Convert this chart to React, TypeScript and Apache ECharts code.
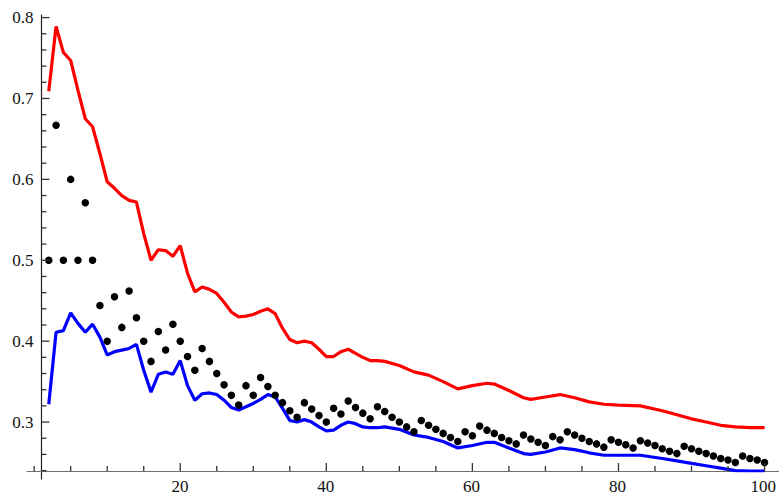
import React, { useEffect, useRef } from "react";
import * as echarts from "echarts";

// x positions where the two bounding curves were read
const curveX = [
  2, 3, 4, 5, 6, 7, 8, 9, 10, 11, 12, 13, 14, 15, 16, 17, 18, 19, 20, 21, 22, 23, 24, 25, 26, 27, 28, 29, 30,
  31, 32, 33, 34, 35, 36, 37, 38, 39, 40, 41, 42, 43, 44, 45, 46, 47, 48, 50, 52, 54, 56, 58, 60, 62, 63, 65,
  67, 68, 70, 72, 74, 76, 78, 80, 83, 86, 88, 90, 92, 94, 96, 98, 100,
];

// upper curve (red)
const redY = [
  0.709, 0.789, 0.757, 0.747, 0.71, 0.675, 0.665, 0.632, 0.597, 0.589, 0.58, 0.574, 0.572, 0.533, 0.5, 0.513,
  0.512, 0.505, 0.518, 0.484, 0.461, 0.467, 0.464, 0.459, 0.448, 0.436, 0.43, 0.431, 0.433, 0.437, 0.44, 0.434,
  0.416, 0.402, 0.398, 0.4, 0.398, 0.39, 0.381, 0.381, 0.387, 0.39, 0.385, 0.38, 0.376, 0.376, 0.375, 0.37,
  0.362, 0.358, 0.35, 0.341, 0.345, 0.348, 0.347, 0.339, 0.33, 0.328, 0.331, 0.334, 0.33, 0.325, 0.322, 0.321,
  0.32, 0.314, 0.309, 0.304, 0.3, 0.296, 0.294, 0.293, 0.293,
];

// lower curve (blue)
const blueY = [
  0.322, 0.411, 0.413, 0.435, 0.422, 0.411, 0.421, 0.405, 0.383, 0.387, 0.389, 0.391, 0.396, 0.364, 0.337,
  0.359, 0.362, 0.359, 0.376, 0.345, 0.327, 0.335, 0.336, 0.334, 0.327, 0.318, 0.315, 0.319, 0.323, 0.328,
  0.334, 0.331, 0.317, 0.302, 0.3, 0.303, 0.3, 0.294, 0.289, 0.29, 0.296, 0.3, 0.298, 0.294, 0.293, 0.293,
  0.294, 0.291, 0.284, 0.281, 0.276, 0.268, 0.271, 0.275, 0.275, 0.268, 0.261, 0.26, 0.263, 0.268, 0.266,
  0.262, 0.259, 0.259, 0.259, 0.255, 0.252, 0.249, 0.246, 0.243, 0.24, 0.2395, 0.2395,
];

// dots: x = 2..100
const dotStart = 2;
const dotY = [
  0.5, 0.667, 0.5, 0.6, 0.5, 0.571, 0.5, 0.444, 0.4, 0.455, 0.417, 0.462, 0.429, 0.4, 0.375, 0.412, 0.389, 0.421,
  0.4, 0.381, 0.364, 0.391, 0.375, 0.36, 0.346, 0.333, 0.321, 0.345, 0.333, 0.355, 0.344, 0.333, 0.324, 0.314,
  0.306, 0.324, 0.316, 0.308, 0.3, 0.317, 0.31, 0.326, 0.318, 0.311, 0.304, 0.319, 0.313, 0.306, 0.3, 0.294,
  0.288, 0.302, 0.296, 0.291, 0.286, 0.281, 0.276, 0.288, 0.283, 0.295, 0.29, 0.286, 0.281, 0.277, 0.273, 0.284,
  0.279, 0.275, 0.271, 0.282, 0.278, 0.288, 0.284, 0.28, 0.276, 0.273, 0.269, 0.278, 0.275, 0.272, 0.268, 0.277,
  0.274, 0.271, 0.267, 0.264, 0.261, 0.27, 0.267, 0.264, 0.261, 0.258, 0.255, 0.253, 0.25, 0.258, 0.255, 0.253,
  0.25,
];

// tick values
const xMajorTicks = [20, 40, 60, 80, 100];
const xMinorTicks = [0, 5, 10, 15, 25, 30, 35, 45, 50, 55, 65, 70, 75, 85, 90, 95];
const yMajorTicks = [0.3, 0.4, 0.5, 0.6, 0.7, 0.8];
const yMinorTicks = [
  0.24, 0.26, 0.28, 0.32, 0.34, 0.36, 0.38, 0.42, 0.44, 0.46, 0.48, 0.52, 0.54, 0.56, 0.58, 0.62, 0.64, 0.66,
  0.68, 0.72, 0.74, 0.76, 0.78,
];
const xLabelMin = 0;
const xLabelMax = 100;
const xLabelStep = 20;
const yLabelMin = 0.3;
const yLabelMax = 0.8;
const yLabelStep = 0.1;

const AXIS = "#6e6e6e";
const TICK = "#333333";
const FONT = "Liberation Serif";

export default function App() {
  const ref = useRef<HTMLDivElement>(null);
  useEffect(() => {
    if (!ref.current) return;
    const chart = echarts.init(ref.current, undefined, { renderer: "svg" });
    // plot geometry
    const gLeft = 27;
    const gTop = 15;
    const gWidth = 752;
    const gHeight = 456;
    const xMin = -0.98;
    const xMax = 101.98;
    const pxX = gWidth / (xMax - xMin);
    const yTop = 0.8032;
    const yBottom = 0.2395;
    const pxY = gHeight / (yTop - yBottom);
    const yAxisAt = 1; // vertical axis drawn at x = 1
    const yAxisX = gLeft + (yAxisAt - xMin) * pxX;
    const yAxisBottomValue = 0.2296;

    const red = curveX.map((x, i) => [x, redY[i]]);
    const blue = curveX.map((x, i) => [x, blueY[i]]);
    const dots = dotY.map((v, i) => [dotStart + i, v]);

    const labelGridX = {
      left: gLeft + (xLabelMin - xMin) * pxX,
      top: gTop,
      width: (xLabelMax - xLabelMin) * pxX,
      height: gHeight,
    };
    const labelGridY = {
      left: yAxisX,
      top: gTop + (yTop - yLabelMax) * pxY,
      width: 100,
      height: (yLabelMax - yLabelMin) * pxY,
    };
    const yLineGrid = {
      left: yAxisX,
      top: gTop,
      width: 100,
      height: (yTop - yAxisBottomValue) * pxY,
    };

    const tickSeries = (data: number[][], size: number[], offset: number[]) => ({
      type: "scatter",
      xAxisIndex: 0,
      yAxisIndex: 0,
      data,
      symbol: "rect",
      symbolSize: size,
      symbolOffset: offset,
      itemStyle: { color: TICK, opacity: 1 },
      clip: false,
      silent: true,
      z: 5,
    });

    chart.setOption({
      animation: false,
      textStyle: { fontFamily: FONT },
      grid: [
        { left: gLeft, top: gTop, width: gWidth, height: gHeight }, // 0 data + x axis line
        labelGridX, // 1 x labels
        yLineGrid, // 2 y axis line
        labelGridY, // 3 y labels
      ],
      xAxis: [
        {
          gridIndex: 0,
          type: "value",
          min: xMin,
          max: xMax,
          position: "bottom",
          axisLine: { show: true, lineStyle: { color: AXIS, width: 1.2 } },
          axisTick: { show: false },
          axisLabel: { show: false },
          splitLine: { show: false },
        },
        {
          gridIndex: 1,
          type: "value",
          min: xLabelMin,
          max: xLabelMax,
          interval: xLabelStep,
          position: "bottom",
          axisLine: { show: false },
          axisTick: { show: false },
          axisLabel: {
            show: true,
            showMinLabel: false,
            margin: 7,
            color: "#111",
            fontFamily: FONT,
            fontSize: 17,
          },
          splitLine: { show: false },
        },
        { gridIndex: 2, type: "value", min: 0, max: 1, show: false },
        { gridIndex: 3, type: "value", min: 0, max: 1, show: false },
      ],
      yAxis: [
        { gridIndex: 0, type: "value", min: yBottom, max: yTop, show: false },
        { gridIndex: 1, type: "value", min: 0, max: 1, show: false },
        {
          gridIndex: 2,
          type: "value",
          min: yAxisBottomValue,
          max: yTop,
          position: "left",
          axisLine: { show: true, lineStyle: { color: "#222", width: 1.2 } },
          axisTick: { show: false },
          axisLabel: { show: false },
          splitLine: { show: false },
        },
        {
          gridIndex: 3,
          type: "value",
          min: yLabelMin,
          max: yLabelMax,
          interval: yLabelStep,
          position: "left",
          axisLine: { show: false },
          axisTick: { show: false },
          axisLabel: {
            show: true,
            margin: 8,
            color: "#111",
            fontFamily: FONT,
            fontSize: 17,
            formatter: (v: number) => v.toFixed(1),
          },
          splitLine: { show: false },
        },
      ],
      series: [
        tickSeries(xMajorTicks.map((x) => [x, yBottom]), [1.3, 8], [0, -4]),
        tickSeries(xMinorTicks.map((x) => [x, yBottom]), [1.3, 5], [0, -2.5]),
        tickSeries(yMajorTicks.map((y) => [yAxisAt, y]), [8, 1.3], [4, 0]),
        tickSeries(yMinorTicks.map((y) => [yAxisAt, y]), [5, 1.3], [2.5, 0]),
        {
          type: "line",
          xAxisIndex: 0,
          yAxisIndex: 0,
          data: red,
          showSymbol: false,
          lineStyle: { color: "#ff0000", width: 3.2 },
          z: 3,
        },
        {
          type: "line",
          xAxisIndex: 0,
          yAxisIndex: 0,
          data: blue,
          showSymbol: false,
          lineStyle: { color: "#0000ff", width: 3.2 },
          z: 3,
        },
        {
          type: "scatter",
          xAxisIndex: 0,
          yAxisIndex: 0,
          data: dots,
          symbol: "circle",
          symbolSize: 7.5,
          itemStyle: { color: "#000", opacity: 1 },
          z: 4,
        },
      ],
    });
    return () => chart.dispose();
  }, []);
  return (
    <div
      ref={ref}
      style={{ position: "absolute", left: 0, top: 0, width: 779, height: 498, background: "#fff" }}
    />
  );
}
